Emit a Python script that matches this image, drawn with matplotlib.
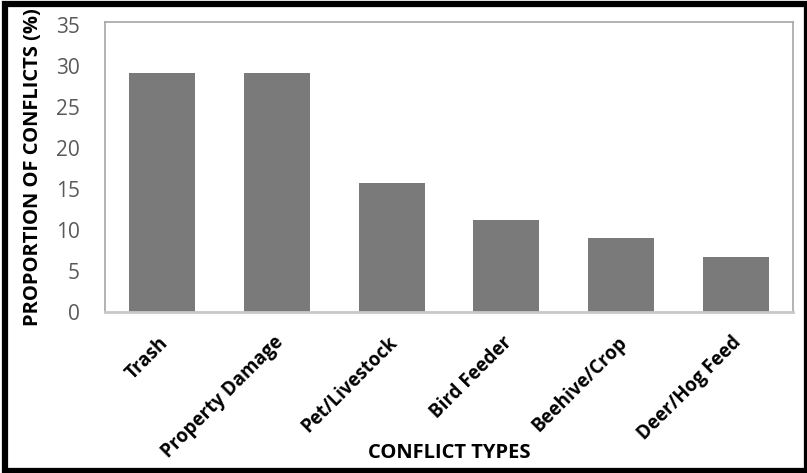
import matplotlib.pyplot as plt
from matplotlib.patches import Rectangle
from matplotlib.transforms import ScaledTranslation

categories = ['Trash', 'Property Damage', 'Pet/Livestock', 'Bird Feeder',
              'Beehive/Crop', 'Deer/Hog Feed']
proportions = [29.2, 29.2, 15.7, 11.2, 9.0, 6.7]
y_ticks = [0, 5, 10, 15, 20, 25, 30, 35]

plt.rcParams['font.family'] = ['Open Sans', 'DejaVu Sans']

W, H = 807, 473


def main():
    fig = plt.figure(figsize=(W / 100, H / 100), dpi=100)
    ax = fig.add_axes([105 / W, 1 - 312 / H, 688 / W, 290 / H])

    x = range(len(categories))
    ax.bar(x, proportions, width=0.575, color='#7a7a7a', zorder=2)

    ax.set_xlim(-0.5, len(categories) - 0.5)
    ax.set_ylim(0, 35.4)
    ax.set_yticks(y_ticks)
    ax.tick_params(axis='y', length=0, labelsize=15, labelcolor='#595959', pad=18)
    ax.set_xticks(list(x))
    ax.set_xticklabels(categories, rotation=45, ha='right', rotation_mode='anchor',
                       fontsize=13.5, fontweight='bold')
    ax.tick_params(axis='x', length=0, pad=15)
    # nudge the slanted labels a little to the left
    shift = ScaledTranslation(-0.04, 0, fig.dpi_scale_trans)
    for lbl in ax.get_xticklabels():
        lbl.set_transform(lbl.get_transform() + shift)

    for side in ['left', 'top', 'right']:
        ax.spines[side].set_color('#a6a6a6')
        ax.spines[side].set_linewidth(1.2)
    ax.spines['bottom'].set_color('#c8c8c8')
    ax.spines['bottom'].set_linewidth(2)

    ax.set_ylabel('PROPORTION OF CONFLICTS (%)', fontsize=14.5, fontweight='bold',
                  labelpad=9)
    fig.text(449 / W, 1 - 453 / H, 'CONFLICT TYPES', fontsize=14.5,
             fontweight='bold', ha='center', va='center')

    # heavy black frame round the whole figure
    x0, y0, x1, y1 = 4.5, 4.5, 806.5, 470.5
    fig.patches.append(Rectangle((x0 / W, 1 - y1 / H), (x1 - x0) / W, (y1 - y0) / H,
                                 transform=fig.transFigure, fill=False,
                                 edgecolor='black', linewidth=4.5))

    fig.savefig('out.png', dpi=100)


if __name__ == '__main__':
    main()
